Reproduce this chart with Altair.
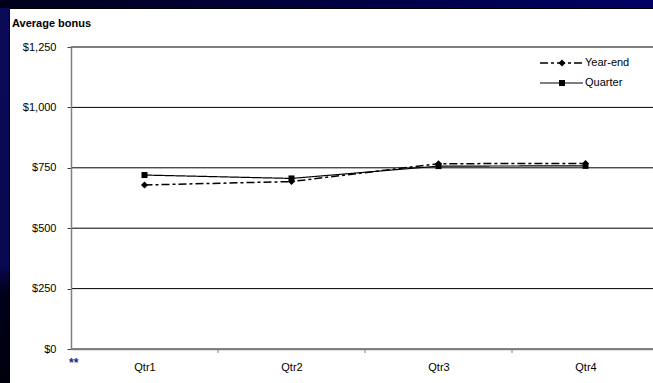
import json
import altair as alt
import pandas as pd

# Average bonus per quarter, two payout schemes
quarters = ["Qtr1", "Qtr2", "Qtr3", "Qtr4"]
year_end = [679, 693, 767, 768]
quarter = [720, 706, 757, 758]
series_names = ["Year-end", "Quarter"]
y_ticks = [0, 250, 500, 750, 1000, 1250]
footnote = "**"
y_title = "Average bonus"

# plot-area geometry (pixels)
W, H = 582, 302
PAD_L, PAD_T, PAD_B = 71, 47, 34
FONT = "Liberation Sans"

rows = []
for i, q in enumerate(quarters):
    rows.append({"quarter": q, "pos": i + 0.5, "series": "Year-end", "bonus": year_end[i]})
    rows.append({"quarter": q, "pos": i + 0.5, "series": "Quarter", "bonus": quarter[i]})
df = pd.DataFrame(rows)
grid_df = pd.DataFrame({"bonus": y_ticks})
bounds_df = pd.DataFrame({"pos": list(range(1, len(quarters)))})
one = alt.Data(values=[{}])

x_scale = alt.Scale(domain=[0, len(quarters)], range=[0, 588], nice=False, zero=False)
y_scale = alt.Scale(domain=[0, 1250], nice=False, zero=True)

x_axis = alt.Axis(
    values=[i + 0.5 for i in range(len(quarters))],
    labelExpr=json.dumps(quarters) + "[floor(datum.value)]",
    ticks=False, grid=False, title=None,
    domainColor="#808080", domainWidth=1.5,
    labelFont=FONT, labelFontSize=11, labelColor="black",
    labelPadding=12, zindex=1,
)
y_axis = alt.Axis(
    values=y_ticks, format="$,.0f", grid=False, title=None,
    domainColor="#808080", domainWidth=1.5,
    tickColor="#404040", tickSize=4,
    labelFont=FONT, labelFontSize=11, labelColor="black",
    labelPadding=11, zindex=1,
)
X = alt.X("pos:Q", scale=x_scale, axis=x_axis)
Y = alt.Y("bonus:Q", scale=y_scale, axis=y_axis)

styles = {
    "Year-end": dict(dash=[8, 3, 3, 3], width=1.5, shape="diamond", size=50),
    "Quarter": dict(dash=[1, 0], width=1.2, shape="square", size=36),
}

# slide background and white chart panel
top_strip = alt.Chart(one).mark_rect(
    fill=alt.LinearGradient(
        gradient="linear", x1=0, x2=1, y1=0, y2=0,
        stops=[alt.GradientStop(color="#00001c", offset=0),
               alt.GradientStop(color="#000066", offset=1)],
    )
).encode(x=alt.value(-PAD_L), x2=alt.value(W + 10), y=alt.value(-PAD_T), y2=alt.value(-PAD_T + 8))

left_strip = alt.Chart(one).mark_rect(
    fill=alt.LinearGradient(
        gradient="linear", x1=0, x2=0, y1=0, y2=1,
        stops=[alt.GradientStop(color="#0a0a58", offset=0),
               alt.GradientStop(color="#080850", offset=0.68),
               alt.GradientStop(color="#00001a", offset=0.75),
               alt.GradientStop(color="#00000c", offset=1)],
    )
).encode(x=alt.value(-PAD_L), x2=alt.value(-PAD_L + 9), y=alt.value(-PAD_T + 8), y2=alt.value(H + PAD_B + 5))

panel = alt.Chart(one).mark_rect(fill="white", stroke="black", strokeWidth=1).encode(
    x=alt.value(-PAD_L + 9.5), x2=alt.value(W + 20),
    y=alt.value(-PAD_T + 8.5), y2=alt.value(H + PAD_B + 20),
)

# horizontal gridlines at the y tick values
grid = alt.Chart(grid_df).mark_rule(color="black", strokeWidth=1).encode(
    y=Y, x=alt.value(0), x2=alt.value(W + 10),
)

# category separator ticks under the x axis
xticks = alt.Chart(bounds_df).mark_rule(color="#808080", strokeWidth=1).encode(
    x=X, y=alt.value(H), y2=alt.value(H + 4),
)

layers = [top_strip, left_strip, panel, grid, xticks]

for name in series_names:
    st = styles[name]
    sub = df[df["series"] == name]
    base = alt.Chart(sub).encode(x=X, y=Y)
    layers.append(base.mark_line(color="black", strokeWidth=st["width"], strokeDash=st["dash"]))
    layers.append(base.mark_point(shape=st["shape"], size=st["size"], filled=True, color="black", opacity=1))

# legend
for i, name in enumerate(series_names):
    st = styles[name]
    ly = 16 + 20 * i
    leg = alt.Chart(alt.Data(values=[{"label": name}]))
    layers.append(leg.mark_rule(color="black", strokeWidth=st["width"], strokeDash=st["dash"]).encode(
        x=alt.value(469), x2=alt.value(512), y=alt.value(ly)))
    layers.append(leg.mark_point(shape=st["shape"], size=st["size"], filled=True, color="black", opacity=1).encode(
        x=alt.value(491), y=alt.value(ly)))
    layers.append(leg.mark_text(align="left", baseline="middle", font=FONT, fontSize=11, color="black").encode(
        x=alt.value(514), y=alt.value(ly), text="label:N"))

title_txt = alt.Chart(alt.Data(values=[{"t": y_title}])).mark_text(
    align="left", baseline="alphabetic", font=FONT, fontSize=11, fontWeight="bold", color="black"
).encode(x=alt.value(-59), y=alt.value(-20), text="t:N")

note_txt = alt.Chart(alt.Data(values=[{"t": footnote}])).mark_text(
    align="left", baseline="top", font=FONT, fontSize=12, fontWeight="bold", color="#22228f"
).encode(x=alt.value(-2), y=alt.value(H + 9), text="t:N")

layers += [title_txt, note_txt]

chart = alt.layer(*layers).properties(
    width=W, height=H,
    padding={"left": PAD_L, "top": PAD_T, "right": 0, "bottom": PAD_B},
    autosize=alt.AutoSizeParams(type="none"),
).configure(background="#06064a").configure_view(stroke=None)

chart.save("out.html", embed_options={"renderer": "svg", "actions": False})
